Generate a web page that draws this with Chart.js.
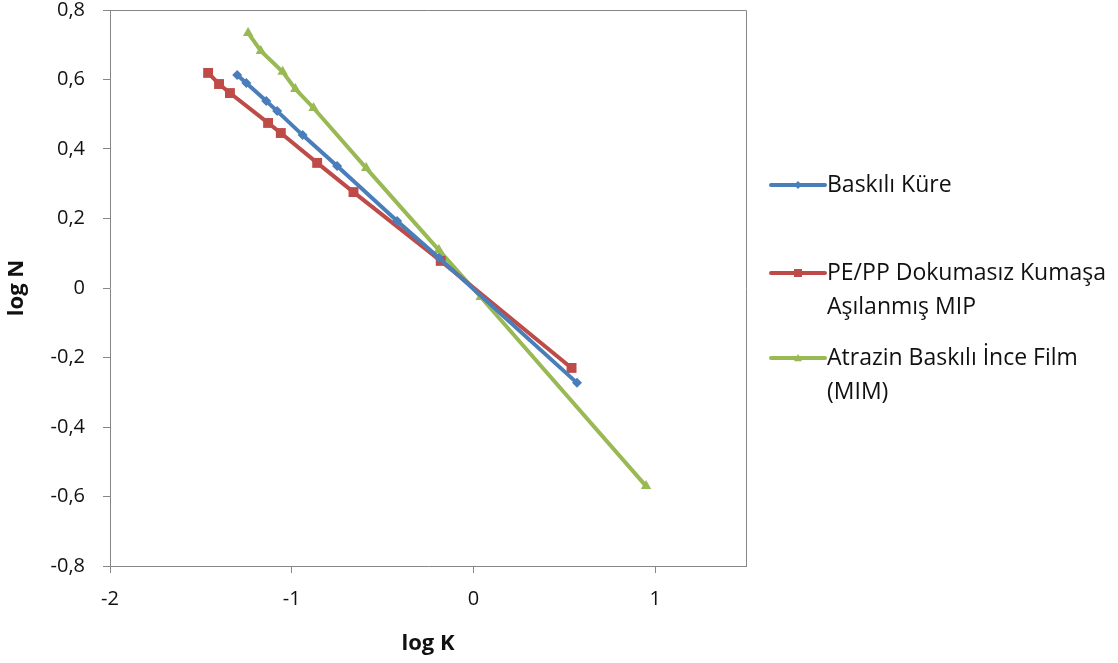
<!DOCTYPE html>
<html>
<head>
<meta charset="utf-8">
<script src="https://cdn.jsdelivr.net/npm/chart.js@4.4.0/dist/chart.umd.min.js"></script>
<style>
  html, body { margin: 0; padding: 0; background: #fff; }
</style>
</head>
<body>
<canvas id="chart" width="1118" height="663"></canvas>
<script>
// series (log K, log N)
const seriesNames = ["Baskılı Küre", "PE/PP Dokumasız Kumaşa Aşılanmış MIP", "Atrazin Baskılı İnce Film (MIM)"];

const kureX = [-1.30, -1.25, -1.14, -1.08, -0.94, -0.75, -0.42, -0.19, 0.57];
const kureY = [0.613, 0.590, 0.538, 0.509, 0.440, 0.351, 0.193, 0.087, -0.273];

const kumasX = [-1.46, -1.40, -1.34, -1.13, -1.06, -0.86, -0.66, -0.18, 0.54];
const kumasY = [0.619, 0.587, 0.561, 0.475, 0.446, 0.360, 0.276, 0.078, -0.230];

const filmX = [-1.24, -1.17, -1.05, -0.98, -0.88, -0.59, -0.19, 0.04, 0.95];
const filmY = [0.734, 0.682, 0.622, 0.573, 0.518, 0.345, 0.109, -0.026, -0.570];

const xTicks = [-2, -1, 0, 1];
const yTicks = [-0.8, -0.6, -0.4, -0.2, 0, 0.2, 0.4, 0.6, 0.8];

const FONT = "'Open Sans', 'Noto Sans', sans-serif";
const axisGray = "#868686";

const toPoints = (xs, ys) => xs.map((x, i) => ({ x: x, y: ys[i] }));
const fmt = v => v === 0 ? "0" : (Math.round(v * 10) / 10).toFixed(1).replace(".", ",");

// frame on top and right of the plot area
const framePlugin = {
  id: "frame",
  beforeDatasetsDraw(chart) {
    const { ctx, chartArea: a } = chart;
    ctx.save();
    ctx.strokeStyle = axisGray;
    ctx.lineWidth = 1;
    ctx.beginPath();
    ctx.moveTo(a.left, a.top + 0.5);
    ctx.lineTo(a.right + 0.5, a.top + 0.5);
    ctx.lineTo(a.right + 0.5, a.bottom);
    ctx.stroke();
    ctx.restore();
  }
};

function drawMarker(ctx, style, x, y, r) {
  ctx.beginPath();
  if (style === "rectRot") {
    ctx.moveTo(x, y - r); ctx.lineTo(x + r, y); ctx.lineTo(x, y + r); ctx.lineTo(x - r, y);
  } else if (style === "rect") {
    ctx.rect(x - r, y - r, 2 * r, 2 * r);
  } else {
    ctx.moveTo(x, y - r); ctx.lineTo(x + r, y + r * 0.8); ctx.lineTo(x - r, y + r * 0.8);
  }
  ctx.closePath();
  ctx.fill();
}

// legend on the right, long names wrapped like the original
const legendPlugin = {
  id: "sideLegend",
  afterDraw(chart) {
    const ctx = chart.ctx;
    const rows = [185, 273, 358];
    const lineH = 34;
    ctx.save();
    ctx.font = "23px " + FONT;
    ctx.textBaseline = "middle";
    chart.data.datasets.forEach((ds, i) => {
      const y = rows[i];
      ctx.strokeStyle = ds.borderColor;
      ctx.fillStyle = ds.borderColor;
      ctx.lineWidth = 4;
      ctx.lineCap = "round";
      ctx.beginPath();
      ctx.moveTo(771, y);
      ctx.lineTo(825, y);
      ctx.stroke();
      drawMarker(ctx, ds.pointStyle, 798, y, 4);

      const words = ds.label.split(" ");
      const lines = [];
      let cur = "";
      words.forEach(w => {
        const t = cur ? cur + " " + w : w;
        if (ctx.measureText(t).width > 288 && cur) { lines.push(cur); cur = w; } else cur = t;
      });
      lines.push(cur);
      ctx.fillStyle = "#111";
      lines.forEach((ln, j) => ctx.fillText(ln, 827, y + j * lineH));
    });
    ctx.restore();
  }
};

const makeSet = (label, xs, ys, color, style, r) => ({
  label: label,
  data: toPoints(xs, ys),
  borderColor: color,
  backgroundColor: color,
  borderWidth: 4,
  pointStyle: style,
  pointRadius: r,
  pointBorderWidth: 0,
  pointHoverRadius: r,
  showLine: true,
  tension: 0
});

new Chart(document.getElementById("chart"), {
  type: "scatter",
  data: {
    datasets: [
      makeSet(seriesNames[0], kureX, kureY, "#4a7ebb", "rectRot", 5),
      makeSet(seriesNames[1], kumasX, kumasY, "#be4b48", "rect", 7),
      makeSet(seriesNames[2], filmX, filmY, "#98b954", "triangle", 6)
    ]
  },
  options: {
    responsive: false,
    animation: false,
    layout: { padding: { left: 0, top: 10, right: 372, bottom: 0 } },
    plugins: {
      legend: { display: false },
      tooltip: { enabled: false }
    },
    scales: {
      x: {
        type: "linear",
        min: -2,
        max: 1.5,
        afterBuildTicks: s => { s.ticks = xTicks.map(v => ({ value: v })); },
        afterFit: s => { s.height = 97; s.paddingLeft = 0; s.paddingRight = 0; },
        border: { color: axisGray, width: 1 },
        grid: { drawOnChartArea: false, tickLength: 7, color: axisGray },
        ticks: { color: "#111", font: { family: FONT, size: 20 }, padding: 14, callback: v => String(v) },
        title: { display: true, text: "log K", color: "#111", font: { family: FONT, size: 22, weight: "bold" }, padding: { top: 0, bottom: 6 } }
      },
      y: {
        type: "linear",
        min: -0.8,
        max: 0.8,
        afterBuildTicks: s => { s.ticks = yTicks.map(v => ({ value: v })); },
        afterFit: s => { s.width = 110; s.paddingTop = 0; s.paddingBottom = 0; },
        border: { color: axisGray, width: 1 },
        grid: { drawOnChartArea: false, tickLength: 7, color: axisGray },
        ticks: { color: "#111", font: { family: FONT, size: 20 }, padding: 18, callback: v => fmt(v) },
        title: { display: true, text: "log N", color: "#111", font: { family: FONT, size: 22, weight: "bold" }, padding: { bottom: 0 } }
      }
    }
  },
  plugins: [framePlugin, legendPlugin]
});
</script>
</body>
</html>
